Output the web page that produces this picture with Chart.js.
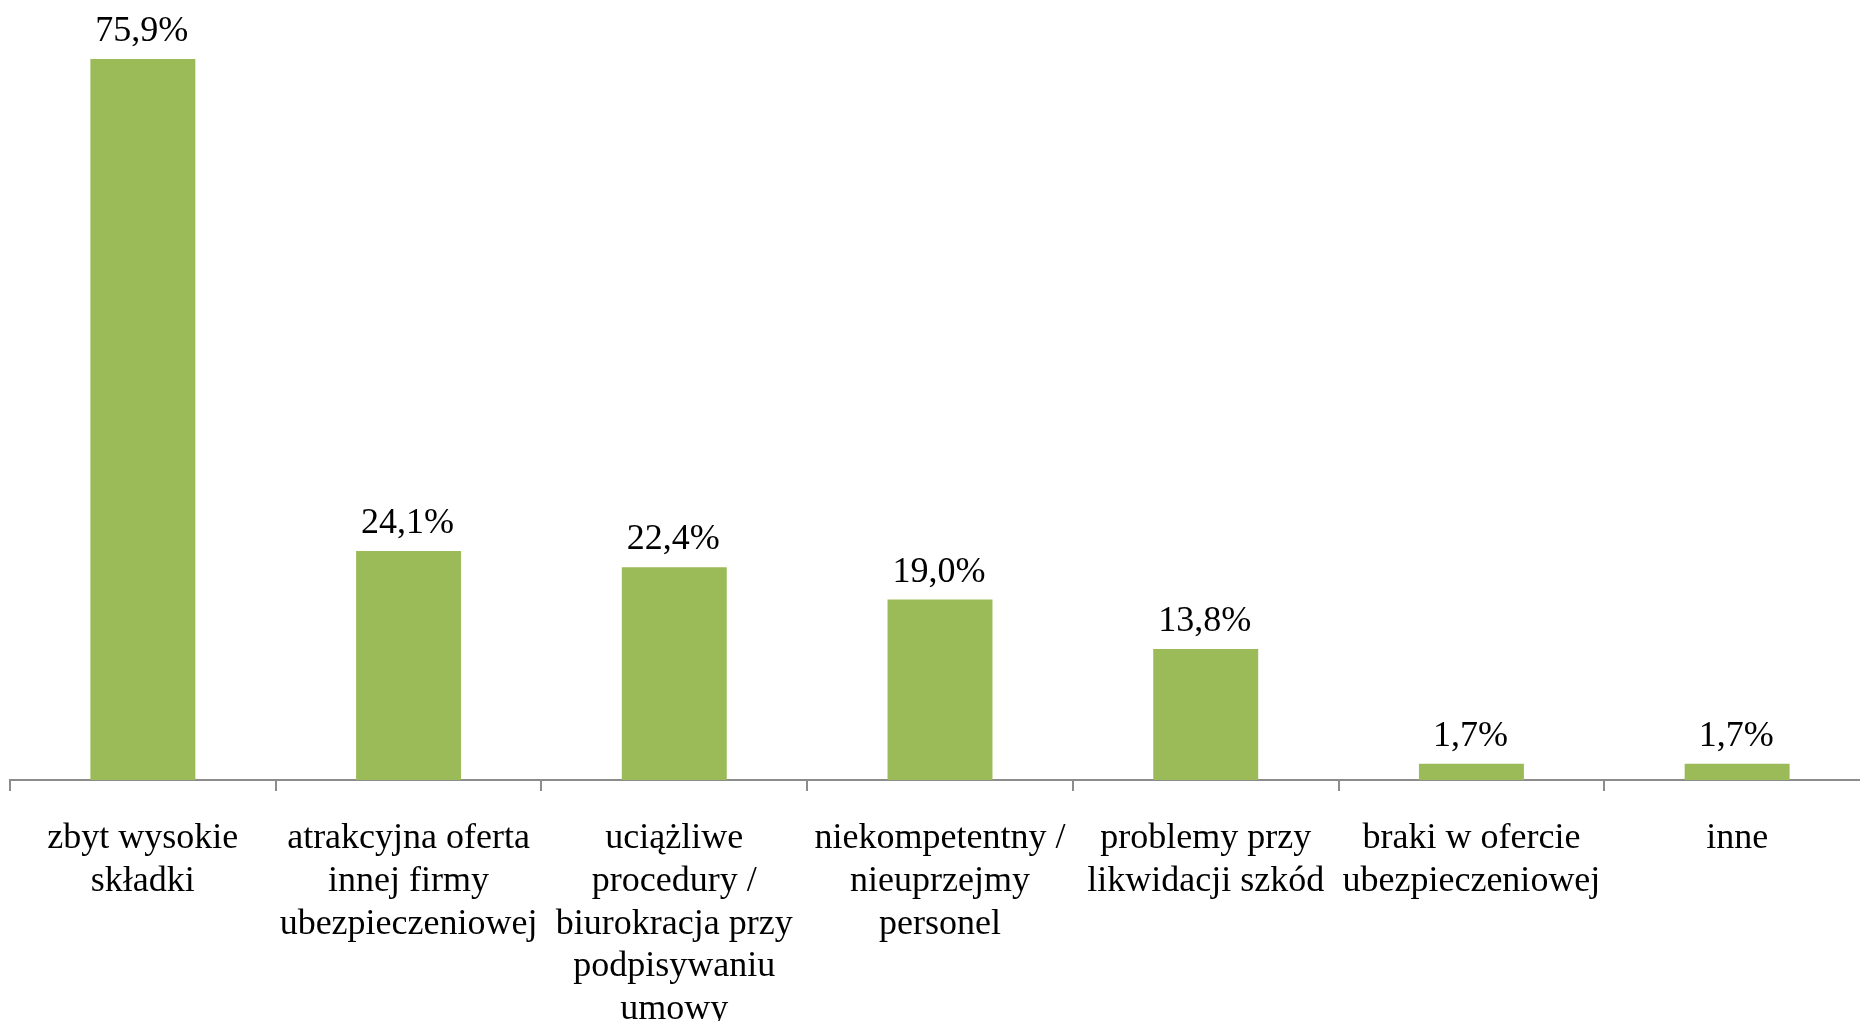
<!DOCTYPE html>
<html lang="pl">
<head>
<meta charset="utf-8">
<title>Powody rezygnacji</title>
<script src="https://cdn.jsdelivr.net/npm/chart.js@4"></script>
<style>
    html, body { margin: 0; padding: 0; background: #fff; overflow: hidden; }
    #wrap { width: 1870px; height: 1021px; }
</style>
</head>
<body>
<div id="wrap"><canvas id="wykres" width="1870" height="1021"></canvas></div>
<script>
// Dane wykresu
const kategorie = [
    ['zbyt wysokie', 'składki'],
    ['atrakcyjna oferta', 'innej firmy', 'ubezpieczeniowej'],
    ['uciążliwe', 'procedury /', 'biurokracja przy', 'podpisywaniu', 'umowy'],
    ['niekompetentny /', 'nieuprzejmy', 'personel'],
    ['problemy przy', 'likwidacji szkód'],
    ['braki w ofercie', 'ubezpieczeniowej'],
    ['inne']
];
const wartosci = [75.9, 24.1, 22.4, 19.0, 13.8, 1.7, 1.7];

const czcionka = '"Liberation Serif", "Times New Roman", serif';

function formatProcent(v) {
    return v.toFixed(1).replace('.', ',') + '%';
}

// Etykiety wartosci nad slupkami
const etykietyPlugin = {
    id: 'etykiety',
    afterDatasetsDraw(chart) {
        const ctx = chart.ctx;
        const meta = chart.getDatasetMeta(0);
        ctx.save();
        ctx.font = '36px ' + czcionka;
        ctx.fillStyle = '#000';
        ctx.textAlign = 'center';
        ctx.textBaseline = 'alphabetic';
        meta.data.forEach((bar, i) => {
            ctx.fillText(formatProcent(wartosci[i]), bar.x - 1, bar.y - 18);
        });
        ctx.restore();
    }
};

new Chart(document.getElementById('wykres'), {
    type: 'bar',
    data: {
        labels: kategorie,
        datasets: [{
            data: wartosci,
            backgroundColor: '#9BBB59',
            borderWidth: 0,
            categoryPercentage: 1,
            barPercentage: 0.395
        }]
    },
    options: {
        responsive: false,
        animation: false,
        layout: { padding: { left: 10, right: 0, top: 1, bottom: 0 } },
        plugins: {
            legend: { display: false },
            tooltip: { enabled: false }
        },
        scales: {
            x: {
                grid: {
                    drawOnChartArea: false,
                    color: '#8c8c8c',
                    lineWidth: 2,
                    tickLength: 11
                },
                border: { color: '#8c8c8c', width: 2 },
                ticks: {
                    color: '#000',
                    font: { family: czcionka, size: 36, lineHeight: 1.19 },
                    padding: 26,
                    maxRotation: 0,
                    minRotation: 0,
                    autoSkip: false
                },
                afterFit(scale) {
                    scale.height = 1021 - 780;
                }
            },
            y: {
                display: false,
                min: 0,
                max: 82
            }
        }
    },
    plugins: [etykietyPlugin]
});
</script>
</body>
</html>
